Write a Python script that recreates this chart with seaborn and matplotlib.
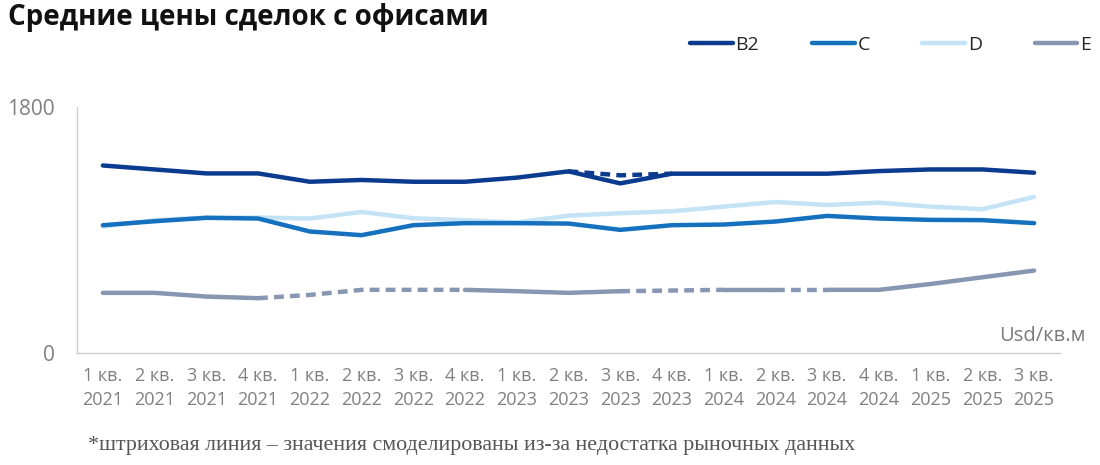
import matplotlib
matplotlib.use("Agg")
import matplotlib.pyplot as plt
import seaborn as sns
import pandas as pd
from matplotlib.lines import Line2D

# ----------------------------
# Data
# ----------------------------
quarters = ["1 кв.\n2021", "2 кв.\n2021", "3 кв.\n2021", "4 кв.\n2021",
            "1 кв.\n2022", "2 кв.\n2022", "3 кв.\n2022", "4 кв.\n2022",
            "1 кв.\n2023", "2 кв.\n2023", "3 кв.\n2023", "4 кв.\n2023",
            "1 кв.\n2024", "2 кв.\n2024", "3 кв.\n2024", "4 кв.\n2024",
            "1 кв.\n2025", "2 кв.\n2025", "3 кв.\n2025"]

b2 = [1372, 1343, 1314, 1314, 1253, 1266, 1253, 1253, 1283, 1329,
      1241, 1312, 1312, 1312, 1312, 1331, 1343, 1343, 1319]
c = [935, 964, 989, 984, 889, 862, 935, 950, 950, 947,
     901, 935, 940, 962, 1003, 984, 974, 972, 950]
d = [925, 972, 991, 991, 984, 1032, 986, 972, 955, 1005,
     1023, 1037, 1071, 1105, 1083, 1100, 1071, 1052, 1142]
e = [440, 440, 413, 401, 425, 462, 462, 462, 452, 440,
     452, 457, 462, 462, 462, 462, 505, 554, 603]

# modelled (dashed) values
b2_model_idx = [9, 10, 11]
b2_model = [1329, 1300, 1312]
# E: dashed segments as (start, end) index pairs
e_dashed = [(3, 7), (10, 12), (13, 14)]

series = ["B2", "C", "D", "E"]
colors = {"B2": "#0b3b8e", "C": "#1570be", "D": "#c4e3f7", "E": "#8796b1"}

df = pd.DataFrame({"x": list(range(len(quarters))) * 4,
                   "value": b2 + c + d + e,
                   "series": [s for s in series for _ in quarters]})

# ----------------------------
# Plot
# ----------------------------
sns.set_style("white")
plt.rcParams["font.family"] = ["Open Sans", "DejaVu Sans"]

fig = plt.figure(figsize=(11, 4.65), dpi=100)
ax = fig.add_axes([0.07, 0.2409, 0.8936, 0.529])

lw = 3.2
dash = (0, (2.2, 1.4))
for s in ["D", "C", "B2"]:
    sub = df[df["series"] == s]
    sns.lineplot(data=sub, x="x", y="value", color=colors[s], lw=lw,
                 ax=ax, legend=False, solid_capstyle="round")

# B2 modelled path
sns.lineplot(x=b2_model_idx, y=b2_model, color=colors["B2"], lw=lw,
             ax=ax, legend=False, linestyle=dash)

# E drawn segment by segment
sub_e = df[df["series"] == "E"].reset_index(drop=True)
dashed_pairs = set()
for a, b in e_dashed:
    for k in range(a, b):
        dashed_pairs.add(k)
k = 0
n = len(quarters)
while k < n - 1:
    kind = k in dashed_pairs
    j = k
    while j < n - 1 and (j in dashed_pairs) == kind:
        j += 1
    seg = sub_e.iloc[k:j + 1]
    if kind:
        sns.lineplot(data=seg, x="x", y="value", color=colors["E"], lw=lw,
                     ax=ax, legend=False, linestyle=dash)
    else:
        sns.lineplot(data=seg, x="x", y="value", color=colors["E"], lw=lw,
                     ax=ax, legend=False, solid_capstyle="round")
    k = j

ax.set_xlim(-0.5, 18.5)
ax.set_ylim(0, 1800)
ax.set_yticks([0, 1800])
ax.set_yticklabels(["0", "1800"])
ax.set_xticks(range(len(quarters)))
ax.set_xticklabels(quarters, linespacing=1.45)
ax.set_xlabel("")
ax.set_ylabel("")
ax.tick_params(axis="both", length=0, colors="#808080")
ax.tick_params(axis="x", labelsize=13, pad=10)
ax.tick_params(axis="y", labelsize=15, pad=16)

for side in ["top", "right"]:
    ax.spines[side].set_visible(False)
for side in ["left", "bottom"]:
    ax.spines[side].set_color("#d0d0d0")
    ax.spines[side].set_linewidth(1)

ax.text(1.026, 0.03, "Usd/кв.м", transform=ax.transAxes, ha="right",
        va="bottom", fontsize=14.5, color="#7a7a7a")

# legend
handles = [Line2D([0], [0], color=colors[s], lw=lw, solid_capstyle="round")
           for s in series]
fig.legend(handles, series, loc="center right", bbox_to_anchor=(0.992, 0.903),
           ncol=4, frameon=False, fontsize=14, handlelength=2.2,
           handletextpad=0.15, columnspacing=2.7, borderpad=0,
           borderaxespad=0)

fig.text(0.007, 0.962, "Средние цены сделок с офисами", fontsize=20,
         fontweight="bold", ha="left", va="center", color="#111111")

fig.text(0.08, 0.043, "*штриховая линия – значения смоделированы из-за недостатка рыночных данных",
         fontsize=15.8, family=["Liberation Serif", "DejaVu Serif"], color="#555555",
         ha="left", va="center")

fig.savefig("out.png", dpi=100)
plt.close(fig)
